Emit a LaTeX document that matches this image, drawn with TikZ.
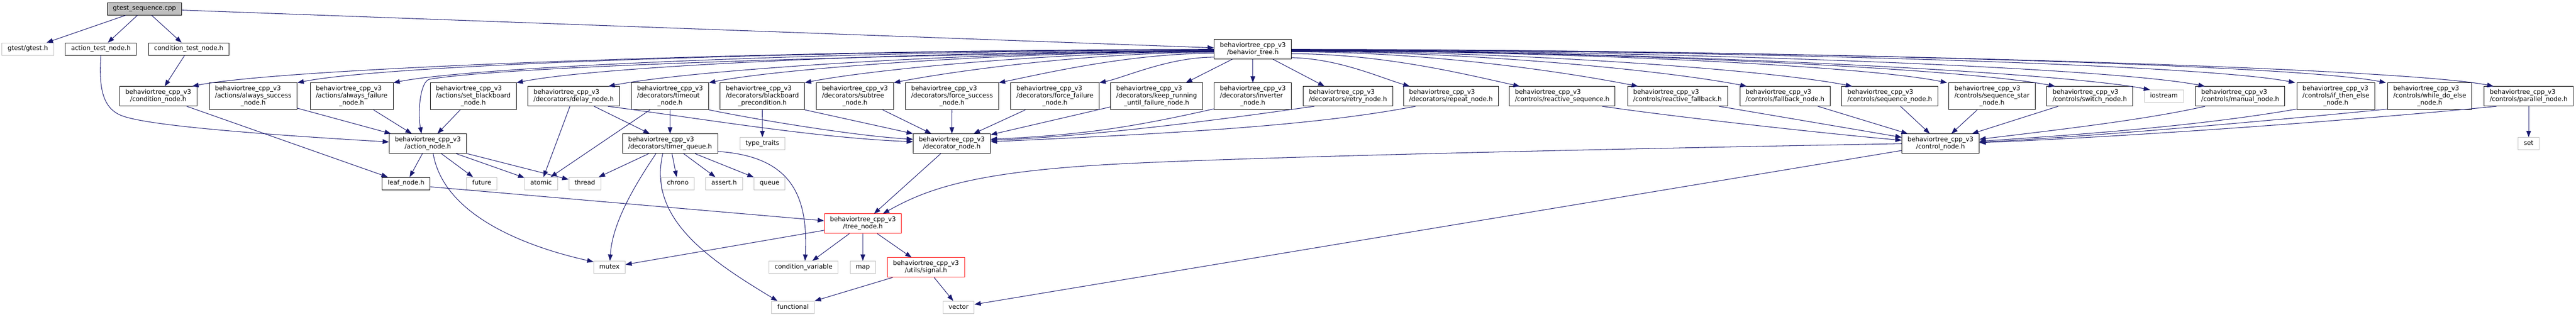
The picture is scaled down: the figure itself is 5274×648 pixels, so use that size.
\documentclass[tikz,border=0pt]{standalone}
\usepackage{fontspec}
\newfontfamily\djfont{DejaVu Sans}
\usetikzlibrary{arrows.meta}
\definecolor{edgec}{HTML}{191970}
\definecolor{grayc}{HTML}{BFBFBF}
\definecolor{rootc}{HTML}{BFBFBF}
\newcommand\lbfont{\djfont\fontsize{12.9pt}{14.5pt}\selectfont}
\newcommand\lone[1]{\begin{tabular}{@{}c@{}}#1\end{tabular}}
\newcommand\ltwo[2]{\begin{tabular}{@{}l@{}}#1\\\multicolumn{1}{@{}c@{}}{#2}\end{tabular}}
\newcommand\lthree[3]{\begin{tabular}{@{}l@{}}#1\\#2\\\multicolumn{1}{@{}c@{}}{#3}\end{tabular}}
\newcommand\btc{behaviortree\_cpp\_v3}
\begin{document}
\begin{tikzpicture}[x=1pt,y=-1pt,
  nd/.style={draw=black, line width=1pt, fill=white, inner xsep=11.65pt, inner ysep=5.5pt, font=\lbfont, text=black},
  gr/.style={nd, draw=grayc},
  rd/.style={nd, draw=red},
  rootnode/.style={nd, fill=rootc},
  edg/.style={draw=edgec, line width=1.1pt, -{Triangle[length=13pt,width=9.5pt]}}]
\fill[white] (0,0) rectangle (5274,648);
\useasboundingbox (0,0) rectangle (5274,648);
% ---------- nodes ----------
\node[rootnode] (seq) at (295.8,18) {\lone{gtest\_sequence.cpp}};
\node[gr] (gtest) at (57,100.4) {\lone{gtest/gtest.h}};
\node[nd] (atest) at (206.5,100.4) {\lone{action\_test\_node.h}};
\node[nd] (ctest) at (386.3,100.4) {\lone{condition\_test\_node.h}};
\node[nd] (BT) at (2565,100.7) {\ltwo{\btc}{/behavior\_tree.h}};
% row C
\node[nd] (cond) at (324,197) {\ltwo{\btc}{/condition\_node.h}};
\node[nd] (asucc) at (518.5,197) {\lthree{\btc}{/actions/always\_success}{\_node.h}};
\node[nd] (afail) at (720,197) {\lthree{\btc}{/actions/always\_failure}{\_node.h}};
\node[nd] (setbb) at (969,197) {\lthree{\btc}{/actions/set\_blackboard}{\_node.h}};
\node[nd] (delay) at (1174.5,197) {\ltwo{\btc}{/decorators/delay\_node.h}};
\node[nd] (timeout) at (1371.8,197) {\lthree{\btc}{/decorators/timeout}{\_node.h}};
\node[nd] (bbpre) at (1560.8,197) {\lthree{\btc}{/decorators/blackboard}{\_precondition.h}};
\node[nd] (subtree) at (1750.4,197) {\lthree{\btc}{/decorators/subtree}{\_node.h}};
\node[nd] (fsucc) at (1949.1,197) {\lthree{\btc}{/decorators/force\_success}{\_node.h}};
\node[nd] (ffail) at (2159.8,197) {\lthree{\btc}{/decorators/force\_failure}{\_node.h}};
\node[nd] (keep) at (2368,197) {\lthree{\btc}{/decorators/keep\_running}{\_until\_failure\_node.h}};
\node[nd] (inverter) at (2565,197) {\lthree{\btc}{/decorators/inverter}{\_node.h}};
\node[nd] (retry) at (2759.7,197) {\ltwo{\btc}{/decorators/retry\_node.h}};
\node[nd] (repeat) at (2970.5,197) {\ltwo{\btc}{/decorators/repeat\_node.h}};
\node[nd] (rseq) at (3198.3,197) {\ltwo{\btc}{/controls/reactive\_sequence.h}};
\node[nd] (rfb) at (3434.4,197) {\ltwo{\btc}{/controls/reactive\_fallback.h}};
\node[nd] (fallback) at (3654.5,197) {\ltwo{\btc}{/controls/fallback\_node.h}};
\node[nd] (sequence) at (3869,197) {\ltwo{\btc}{/controls/sequence\_node.h}};
\node[nd] (seqstar) at (4078.3,197) {\lthree{\btc}{/controls/sequence\_star}{\_node.h}};
\node[nd] (switch) at (4278.4,197) {\ltwo{\btc}{/controls/switch\_node.h}};
\node[gr] (iostream) at (4430.3,197) {\lone{iostream}};
\node[nd] (manual) at (4586.5,197) {\ltwo{\btc}{/controls/manual\_node.h}};
\node[nd] (ite) at (4782.4,197) {\lthree{\btc}{/controls/if\_then\_else}{\_node.h}};
\node[nd] (wde) at (4974.5,197) {\lthree{\btc}{/controls/while\_do\_else}{\_node.h}};
\node[nd] (parallel) at (5177,197) {\ltwo{\btc}{/controls/parallel\_node.h}};
% row D
\node[nd] (act) at (875.9,294) {\ltwo{\btc}{/action\_node.h}};
\node[nd] (timerq) at (1371.9,294) {\ltwo{\btc}{/decorators/timer\_queue.h}};
\node[gr] (typet) at (1560.9,294) {\lone{type\_traits}};
\node[nd] (decor) at (1948.7,294) {\ltwo{\btc}{/decorator\_node.h}};
\node[nd] (control) at (3972.9,294) {\ltwo{\btc}{/control\_node.h}};
\node[gr] (set) at (5177,294) {\lone{set}};
% row E
\node[nd] (leaf) at (831.5,375.6) {\lone{leaf\_node.h}};
\node[gr] (future) at (986.4,375.6) {\lone{future}};
\node[gr] (atomic) at (1107.8,375.6) {\lone{atomic}};
\node[gr] (thread) at (1197.3,375.6) {\lone{thread}};
\node[gr] (chrono) at (1387.8,375.6) {\lone{chrono}};
\node[gr] (assert) at (1482.5,375.6) {\lone{assert.h}};
\node[gr] (queue) at (1575.5,375.6) {\lone{queue}};
% rows F-H
\node[rd] (tree) at (1766.7,457.7) {\ltwo{\btc}{/tree\_node.h}};
\node[gr] (mutex) at (1247.8,547) {\lone{mutex}};
\node[gr] (condvar) at (1645.2,547) {\lone{condition\_variable}};
\node[gr] (map) at (1766.5,547) {\lone{map}};
\node[rd] (signal) at (1895.7,547.3) {\ltwo{\btc}{/utils/signal.h}};
\node[gr] (functional) at (1623.7,629) {\lone{functional}};
\node[gr] (vector) at (1962.4,629) {\lone{vector}};
% ---------- edges ----------
\draw[edg] (seq) -- (gtest);
\draw[edg] (seq) -- (atest);
\draw[edg] (seq) -- (ctest);
\draw[edg] (seq) -- (BT);
\draw[edg] (atest.south) .. controls (202,180) and (210,222) .. (250,237) .. controls (300,255.75) and (500,273) .. ([yshift=3.5pt]act.west);
\draw[edg] (ctest) -- (cond);
\draw[edg] (cond) -- (leaf);
\draw[edg] (asucc) -- (act);
\draw[edg] (afail) -- (act);
\draw[edg] (setbb) -- (act);
\draw[edg] (act) -- (leaf);
\draw[edg] (act) -- (future);
\draw[edg] (act) -- (atomic);
\draw[edg] (act) -- (thread);
\draw[edg] ([xshift=11pt]act.south) .. controls (910,450) and (1100,510) .. ([yshift=-2pt]mutex.north west);
\draw[edg] ([yshift=-6.7pt]leaf.east) -- ([yshift=6pt]tree.west);
\draw[edg] (delay) -- (atomic);
\draw[edg] (delay) -- (timerq);
\draw[edg] (timeout) -- (atomic);
\draw[edg] (timeout) -- (timerq);
\draw[edg] (bbpre) -- (typet);
\draw[edg] (timerq) -- (thread);
\draw[edg] ([xshift=-29pt]timerq.south) .. controls (1303,374) and (1254,453) .. ([xshift=1pt]mutex.north);
\draw[edg] ([xshift=-15pt]timerq.south) .. controls (1327,444) and (1442,526) .. ([xshift=-32pt]functional.north);
\draw[edg] (timerq) -- (chrono);
\draw[edg] (timerq) -- (assert);
\draw[edg] (timerq) -- (queue);
\draw[edg] ([yshift=-16pt]timerq.east) .. controls (1620,320) and (1655,400) .. ([xshift=3pt]condvar.north);
% into decorator
\draw[edg] (subtree) -- (decor);
\draw[edg] (fsucc) -- (decor);
\draw[edg] (ffail) -- (decor);
\draw[edg] (keep) -- (decor);
\draw[edg] ([yshift=2pt]inverter.south west) to[bend left=5] ([yshift=9pt]decor.east);
\draw[edg] ([xshift=-69pt]retry.south) .. controls (2590.7,231.5) and (2278,277) .. ([yshift=7pt]decor.east);
\draw[edg] ([xshift=-72.5pt]repeat.south) .. controls (2698,256) and (2428,272) .. ([yshift=4pt]decor.east);
\draw[edg] ([xshift=70pt]delay.south) .. controls (1444.5,244) and (1669.4,282) .. ([yshift=4pt]decor.west);
\draw[edg] (timeout.south east) .. controls (1550,245) and (1750,278) .. ([yshift=9pt]decor.west);
\draw[edg] (bbpre.south east) -- (decor.north west);
% into control
\draw[edg] (fallback) -- (control);
\draw[edg] (sequence) -- (control);
\draw[edg] (seqstar) -- (control);
\draw[edg] (switch) -- (control);
\draw[edg] ([xshift=85pt]rfb.south) -- ([yshift=13pt]control.west);
\draw[edg] ([xshift=82pt]rseq.south) .. controls (3430,239.5) and (3743.7,274) .. ([yshift=7pt]control.west);
\draw[edg] ([xshift=-72pt]manual.south) .. controls (4395,245) and (4202,267) .. ([yshift=9pt]control.east);
\draw[edg] ([yshift=1.5pt]ite.south west) .. controls (4501.6,258) and (4252,276) .. ([yshift=5pt]control.east);
\draw[edg] ([yshift=1.5pt]wde.south west) .. controls (4637,248) and (4302,278) .. ([yshift=3pt]control.east);
\draw[edg] ([xshift=-66pt]parallel.south) .. controls (4814,247) and (4352,280) .. ([yshift=2pt]control.east);
\draw[edg] (parallel) -- (set);
% control -> tree / vector
\draw[edg] (control.west) .. controls (3000,310) and (2500,325) .. (2300,335) .. controls (2000,350) and (1900,385) .. ([xshift=41pt]tree.north);
\draw[edg] ([yshift=-14pt]control.west) -- ([yshift=6pt]vector.east);
% tree and below
\draw[edg] (decor) -- (tree);
\draw[edg] (tree) -- (mutex);
\draw[edg] (tree) -- (condvar);
\draw[edg] (tree) -- (map);
\draw[edg] (tree) -- (signal);
\draw[edg] (signal) -- (functional);
\draw[edg] (signal) -- (vector);
% behavior_tree.h to the left
\draw[edg] ([yshift=-0.3pt]BT.west) .. controls (1648,101) and (593,137) .. ([xshift=-10pt]cond.north east);
\draw[edg] ([yshift=-1.3pt]BT.west) .. controls (1735,102) and (809,129.5) .. (asucc.north east);
\draw[edg] ([yshift=-1.8pt]BT.west) .. controls (1814,102.5) and (986,133.5) .. (afail.north east);
\draw[edg] ([yshift=-2.3pt]BT.west) .. controls (1500,118) and (1000,142) .. (880,162) .. controls (860,165.3) and (855,230) .. ([xshift=-13pt]act.north);
\draw[edg] ([yshift=-3.3pt]BT.west) .. controls (1914,104) and (1237,133.5) .. (setbb.north east);
\draw[edg] ([yshift=-4.3pt]BT.west) .. controls (1989,105) and (1415,143) .. ([xshift=-23pt]delay.north east);
\draw[edg] ([yshift=-4.8pt]BT.west) .. controls (2072,105.5) and (1601,139.5) .. (timeout.north east);
\draw[edg] ([yshift=-5.3pt]BT.west) .. controls (2150,106) and (1777,143.5) .. (bbpre.north east);
\draw[edg] ([yshift=-6.3pt]BT.west) .. controls (2223,107) and (1940,147.5) .. (subtree.north east);
\draw[edg] ([yshift=-8.3pt]BT.west) .. controls (2309,109) and (2124,153.5) .. (fsucc.north east);
\draw[edg] ([yshift=-16.3pt]BT.west) .. controls (2392,117) and (2300,159.5) .. (ffail.north east);
\draw[edg] ([xshift=-42pt]BT.south) -- ([xshift=-35pt]keep.north east);
\draw[edg] (BT) -- (inverter);
% behavior_tree.h to the right
\draw[edg] ([xshift=41pt]BT.south) -- ([xshift=-48pt]retry.north);
\draw[edg] ([yshift=-17.3pt]BT.east) .. controls (2741,120) and (2826,159) .. ([xshift=-84.5pt]repeat.north);
\draw[edg] ([yshift=-9.3pt]BT.east) .. controls (2831,110) and (3000,152) .. ([xshift=-87pt]rseq.north);
\draw[edg] ([yshift=-5.3pt]BT.east) .. controls (2928,106) and (3203,147) .. ([xshift=-81pt]rfb.north);
\draw[edg] ([yshift=-4.3pt]BT.east) .. controls (3017,105) and (3416,145) .. ([xshift=-78.5pt]fallback.north);
\draw[edg] ([yshift=-3.8pt]BT.east) .. controls (3103,104.5) and (3622,143) .. ([xshift=-77pt]sequence.north);
\draw[edg] ([yshift=-3.3pt]BT.east) .. controls (3183,104) and (3810,133.5) .. ([xshift=-3pt]seqstar.north west);
\draw[edg] ([yshift=-2.8pt]BT.east) .. controls (3270,103.5) and (4017,139.3) .. ([xshift=-71pt]switch.north);
\draw[edg] ([yshift=-2.3pt]BT.east) .. controls (3347,103) and (4210,146.3) .. ([xshift=12pt]iostream.north west);
\draw[edg] ([yshift=-1.8pt]BT.east) .. controls (3393,102.5) and (4315,137.3) .. ([xshift=-72.5pt]manual.north);
\draw[edg] ([yshift=-1.3pt]BT.east) .. controls (3466,102) and (4498,129.75) .. ([xshift=-3pt]ite.north west);
\draw[edg] ([yshift=-0.8pt]BT.east) .. controls (3540,101.5) and (4684,129.75) .. ([xshift=-3pt]wde.north west);
\draw[edg] ([yshift=-0.3pt]BT.east) .. controls (3630,101) and (4910,137.3) .. ([xshift=-72pt]parallel.north);
\end{tikzpicture}
\end{document}
